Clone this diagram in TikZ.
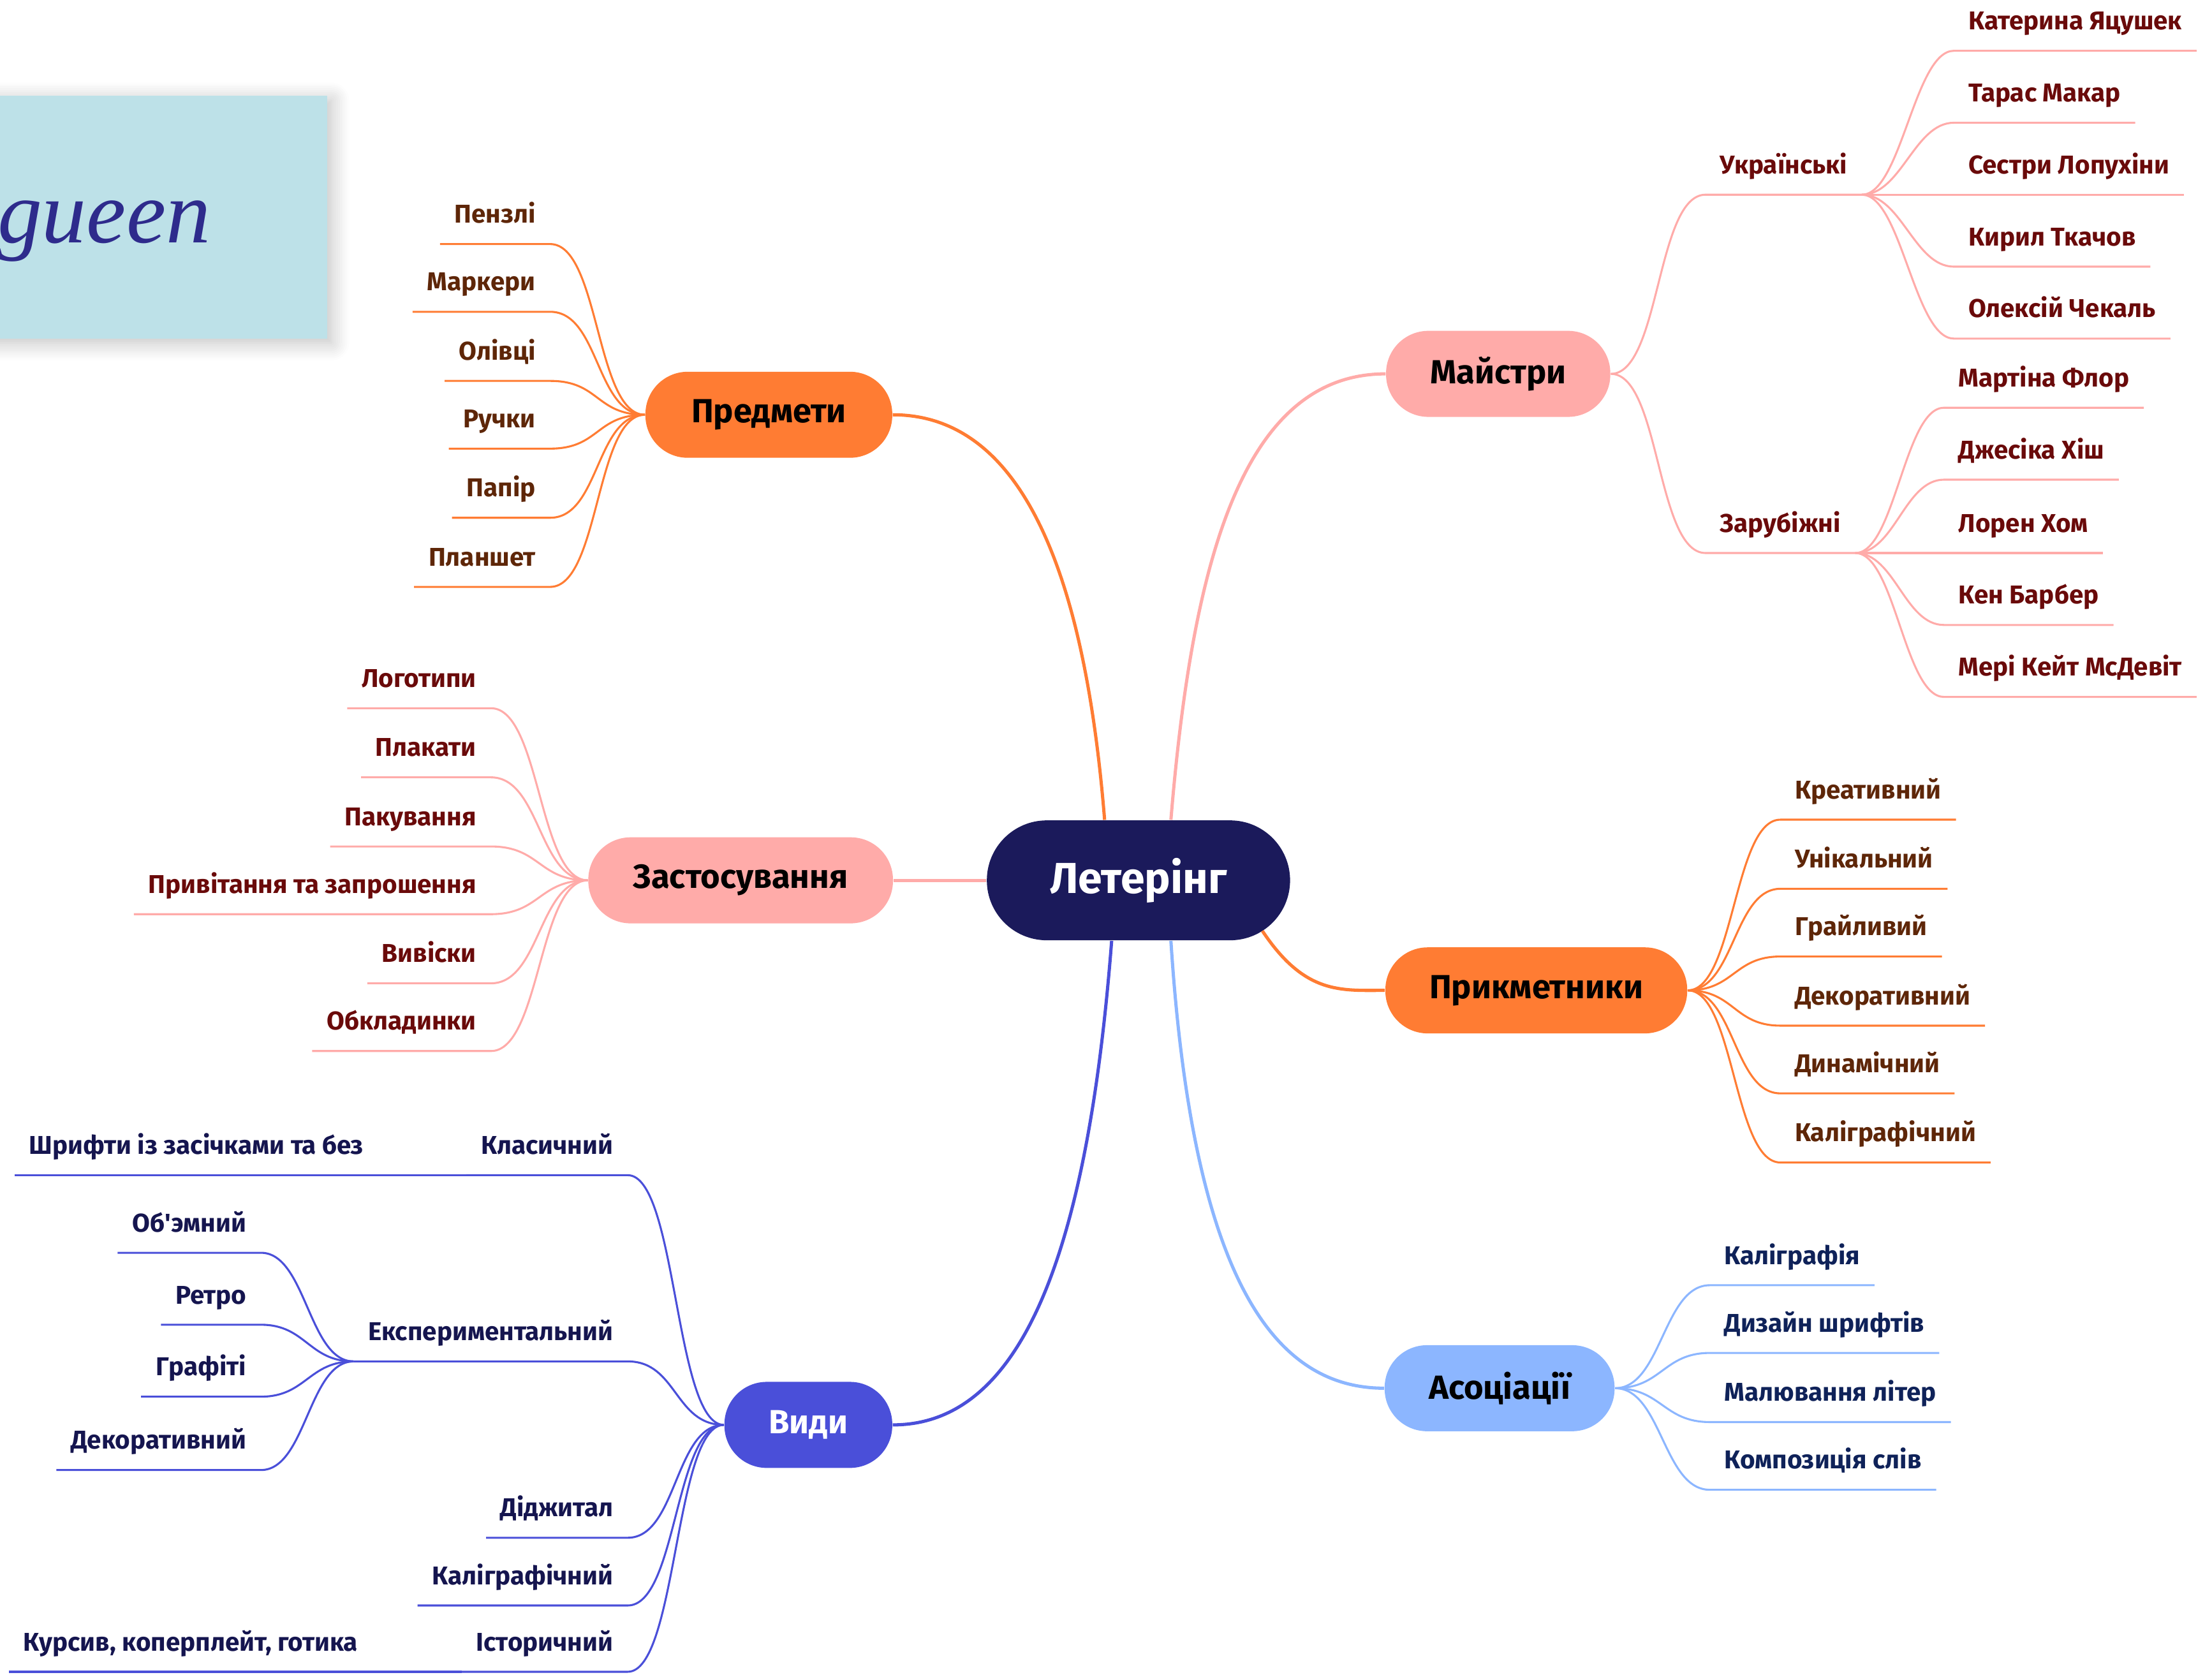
\documentclass[tikz,border=0pt]{standalone}
\usepackage{fontspec}
\setmainfont{Fira Sans}
\newfontfamily\handfont{Liberation Serif}
\usepackage{tikz}
\usetikzlibrary{shadows.blur}

\definecolor{hubnavy}{HTML}{1B1A5B}
\definecolor{brorange}{HTML}{FF7C33}
\definecolor{brpink}{HTML}{FFABA9}
\definecolor{brsky}{HTML}{8CB6FF}
\definecolor{brblue}{HTML}{4A4FD9}
\definecolor{txbrown}{HTML}{5E2608}
\definecolor{txred}{HTML}{6A0A0A}
\definecolor{txnavy}{HTML}{0F2259}
\definecolor{txindigo}{HTML}{15154F}
\definecolor{cardblue}{HTML}{BDE1E8}
\definecolor{inkblue}{HTML}{2E2B8C}

\tikzset{
  topic/.style={rounded corners=0.6cm, minimum height=1.22cm, inner sep=0pt,
    font=\fontsize{13.5}{16}\selectfont\bfseries},
  leafl/.style={anchor=south east, inner xsep=0.2cm, inner ysep=0.29cm,
    text height=0.27cm, text depth=0pt, font=\fontsize{10.4}{12}\selectfont\bfseries},
  leafr/.style={leafl, anchor=south west},
  trunk/.style={line width=1.3pt},
  twig/.style={line width=0.8pt}
}

\begin{document}
\begin{tikzpicture}[x=0.02cm, y=-0.02cm]
\useasboundingbox (0,0) rectangle (1568,1187);

% picture card
\fill[cardblue, blur shadow={shadow blur steps=10, shadow blur radius=0.25cm, shadow xshift=0.06cm, shadow yshift=-0.06cm, shadow opacity=25}] (-20,68) rectangle (232,240);
\node[inkblue, anchor=base west, font=\handfont\itshape\fontsize{36}{36}\selectfont] (hand) at (-8,172) {gueen};

% main topics
\node[topic, fill=hubnavy, text=white, minimum width=4.3cm, minimum height=1.7cm, rounded corners=0.85cm,
  font=\fontsize{17.5}{20}\selectfont\bfseries] (letering) at (807,624) {Летерінг};
\node[topic, fill=brorange, minimum width=3.5cm] (predmety) at (545,294) {Предмети};
\node[topic, fill=brpink, minimum width=3.18cm] (maistry) at (1062,265) {Майстри};
\node[topic, fill=brpink, minimum width=4.32cm] (zastos) at (525,624) {Застосування};
\node[topic, fill=brorange, minimum width=4.28cm] (prykm) at (1089,702) {Прикметники};
\node[topic, fill=brsky, minimum width=3.26cm] (asots) at (1063,984) {Асоціації};
\node[topic, fill=brblue, text=white, minimum width=2.38cm] (vydy) at (573,1010) {Види};

\draw[trunk, brorange] ([xshift=-0.48cm]letering.north) .. controls (770,420) and (730,294) .. (predmety.east);
\draw[trunk, brpink] ([xshift=0.46cm]letering.north) .. controls (845,400) and (880,265) .. (maistry.west);
\draw[trunk, brpink] (letering.west) -- (zastos.east);
\draw[trunk, brorange] ([xshift=-0.4cm,yshift=0.14cm]letering.south east) .. controls (925,705) and (950,702) .. (prykm.west);
\draw[trunk, brsky] ([xshift=0.46cm]letering.south) .. controls (845,900) and (900,984) .. (asots.west);
\draw[trunk, brblue] ([xshift=-0.38cm]letering.south) .. controls (770,900) and (720,1010) .. (vydy.east);

% Предмети
\node[leafl, text=txbrown] (penzli) at (390,173) {Пензлі};
\node[leafl, text=txbrown] (markery) at (390,221) {Маркери};
\node[leafl, text=txbrown] (olivtsi) at (390,270) {Олівці};
\node[leafl, text=txbrown] (ruchky) at (390,318) {Ручки};
\node[leafl, text=txbrown] (papir) at (390,367) {Папір};
\node[leafl, text=txbrown] (planshet) at (390,416) {Планшет};
\draw[twig, brorange] (predmety.west) .. controls +(-35,0) and +(35,0) .. (penzli.south east) -- (penzli.south west);
\draw[twig, brorange] (predmety.west) .. controls +(-35,0) and +(35,0) .. (markery.south east) -- (markery.south west);
\draw[twig, brorange] (predmety.west) .. controls +(-35,0) and +(35,0) .. (olivtsi.south east) -- (olivtsi.south west);
\draw[twig, brorange] (predmety.west) .. controls +(-35,0) and +(35,0) .. (ruchky.south east) -- (ruchky.south west);
\draw[twig, brorange] (predmety.west) .. controls +(-35,0) and +(35,0) .. (papir.south east) -- (papir.south west);
\draw[twig, brorange] (predmety.west) .. controls +(-35,0) and +(35,0) .. (planshet.south east) -- (planshet.south west);

% Застосування
\node[leafl, text=txred] (logotypy) at (348,502) {Логотипи};
\node[leafl, text=txred] (plakaty) at (348,551) {Плакати};
\node[leafl, text=txred] (pakuvannia) at (348,600) {Пакування};
\node[leafl, text=txred] (pryvitannia) at (348,648) {Привітання та запрошення};
\node[leafl, text=txred] (vyvisky) at (348,697) {Вивіски};
\node[leafl, text=txred] (obkladynky) at (348,745) {Обкладинки};
\draw[twig, brpink] (zastos.west) .. controls +(-35,0) and +(35,0) .. (logotypy.south east) -- (logotypy.south west);
\draw[twig, brpink] (zastos.west) .. controls +(-35,0) and +(35,0) .. (plakaty.south east) -- (plakaty.south west);
\draw[twig, brpink] (zastos.west) .. controls +(-35,0) and +(35,0) .. (pakuvannia.south east) -- (pakuvannia.south west);
\draw[twig, brpink] (zastos.west) .. controls +(-35,0) and +(35,0) .. (pryvitannia.south east) -- (pryvitannia.south west);
\draw[twig, brpink] (zastos.west) .. controls +(-35,0) and +(35,0) .. (vyvisky.south east) -- (vyvisky.south west);
\draw[twig, brpink] (zastos.west) .. controls +(-35,0) and +(35,0) .. (obkladynky.south east) -- (obkladynky.south west);

% Майстри
\node[leafr, text=txred] (ukrainski) at (1209,138) {Українські};
\node[leafr, text=txred] (zarubizhni) at (1209,392) {Зарубіжні};
\draw[twig, brpink] (maistry.east) .. controls +(35,0) and +(-35,0) .. (ukrainski.south west) -- (ukrainski.south east);
\draw[twig, brpink] (maistry.east) .. controls +(35,0) and +(-35,0) .. (zarubizhni.south west) -- (zarubizhni.south east);
\node[leafr, text=txred] (kateryna) at (1385,36) {Катерина Яцушек};
\node[leafr, text=txred] (taras) at (1385,87) {Тарас Макар};
\node[leafr, text=txred] (sestry) at (1385,138) {Сестри Лопухіни};
\node[leafr, text=txred] (kyryl) at (1385,189) {Кирил Ткачов};
\node[leafr, text=txred] (oleksii) at (1385,240) {Олексій Чекаль};
\draw[twig, brpink] (ukrainski.south east) .. controls +(28,0) and +(-28,0) .. (kateryna.south west) -- (kateryna.south east);
\draw[twig, brpink] (ukrainski.south east) .. controls +(28,0) and +(-28,0) .. (taras.south west) -- (taras.south east);
\draw[twig, brpink] (ukrainski.south east) -- (sestry.south west) -- (sestry.south east);
\draw[twig, brpink] (ukrainski.south east) .. controls +(28,0) and +(-28,0) .. (kyryl.south west) -- (kyryl.south east);
\draw[twig, brpink] (ukrainski.south east) .. controls +(28,0) and +(-28,0) .. (oleksii.south west) -- (oleksii.south east);
\node[leafr, text=txred] (martina) at (1378,289) {Мартіна Флор};
\node[leafr, text=txred] (jessica) at (1378,340) {Джесіка Хіш};
\node[leafr, text=txred] (loren) at (1378,392) {Лорен Хом};
\node[leafr, text=txred] (ken) at (1378,443) {Кен Барбер};
\node[leafr, text=txred] (meri) at (1378,494) {Мері Кейт МсДевіт};
\draw[twig, brpink] (zarubizhni.south east) .. controls +(28,0) and +(-28,0) .. (martina.south west) -- (martina.south east);
\draw[twig, brpink] (zarubizhni.south east) .. controls +(28,0) and +(-28,0) .. (jessica.south west) -- (jessica.south east);
\draw[twig, brpink] (zarubizhni.south east) -- (loren.south west) -- (loren.south east);
\draw[twig, brpink] (zarubizhni.south east) .. controls +(28,0) and +(-28,0) .. (ken.south west) -- (ken.south east);
\draw[twig, brpink] (zarubizhni.south east) .. controls +(28,0) and +(-28,0) .. (meri.south west) -- (meri.south east);

% Прикметники
\node[leafr, text=txbrown] (kreatyvnyi) at (1262,581) {Креативний};
\node[leafr, text=txbrown] (unikalnyi) at (1262,630) {Унікальний};
\node[leafr, text=txbrown] (hrailyvyi) at (1262,678) {Грайливий};
\node[leafr, text=txbrown] (dekoratyvnyi) at (1262,727) {Декоративний};
\node[leafr, text=txbrown] (dynamichnyi) at (1262,775) {Динамічний};
\node[leafr, text=txbrown] (kalihrafichnyi) at (1262,824) {Каліграфічний};
\draw[twig, brorange] (prykm.east) .. controls +(33,0) and +(-33,0) .. (kreatyvnyi.south west) -- (kreatyvnyi.south east);
\draw[twig, brorange] (prykm.east) .. controls +(33,0) and +(-33,0) .. (unikalnyi.south west) -- (unikalnyi.south east);
\draw[twig, brorange] (prykm.east) .. controls +(33,0) and +(-33,0) .. (hrailyvyi.south west) -- (hrailyvyi.south east);
\draw[twig, brorange] (prykm.east) .. controls +(33,0) and +(-33,0) .. (dekoratyvnyi.south west) -- (dekoratyvnyi.south east);
\draw[twig, brorange] (prykm.east) .. controls +(33,0) and +(-33,0) .. (dynamichnyi.south west) -- (dynamichnyi.south east);
\draw[twig, brorange] (prykm.east) .. controls +(33,0) and +(-33,0) .. (kalihrafichnyi.south west) -- (kalihrafichnyi.south east);

% Асоціації
\node[leafr, text=txnavy] (kalihrafiia) at (1212,911) {Каліграфія};
\node[leafr, text=txnavy] (dyzain) at (1212,959) {Дизайн шрифтів};
\node[leafr, text=txnavy] (maliuvannia) at (1212,1008) {Малювання літер};
\node[leafr, text=txnavy] (kompozytsiia) at (1212,1056) {Композиція слів};
\draw[twig, brsky] (asots.east) .. controls +(33,0) and +(-33,0) .. (kalihrafiia.south west) -- (kalihrafiia.south east);
\draw[twig, brsky] (asots.east) .. controls +(33,0) and +(-33,0) .. (dyzain.south west) -- (dyzain.south east);
\draw[twig, brsky] (asots.east) .. controls +(33,0) and +(-33,0) .. (maliuvannia.south west) -- (maliuvannia.south east);
\draw[twig, brsky] (asots.east) .. controls +(33,0) and +(-33,0) .. (kompozytsiia.south west) -- (kompozytsiia.south east);

% Види
\node[leafl, text=txindigo] (klasychnyi) at (445,833) {Класичний};
\node[leafl, text=txindigo] (eksperym) at (445,965) {Експериментальний};
\node[leafl, text=txindigo] (didzhytal) at (445,1090) {Діджитал};
\node[leafl, text=txindigo] (kalihr) at (445,1138) {Каліграфічний};
\node[leafl, text=txindigo] (istorychnyi) at (445,1185) {Історичний};
\draw[twig, brblue] (vydy.west) .. controls +(-35,0) and +(35,0) .. (klasychnyi.south east) -- (klasychnyi.south west);
\draw[twig, brblue] (vydy.west) .. controls +(-35,0) and +(35,0) .. (eksperym.south east) -- (eksperym.south west);
\draw[twig, brblue] (vydy.west) .. controls +(-35,0) and +(35,0) .. (didzhytal.south east) -- (didzhytal.south west);
\draw[twig, brblue] (vydy.west) .. controls +(-35,0) and +(35,0) .. (kalihr.south east) -- (kalihr.south west);
\draw[twig, brblue] (vydy.west) .. controls +(-35,0) and +(35,0) .. (istorychnyi.south east) -- (istorychnyi.south west);
\node[leafl, text=txindigo] (shryfty) at (268,833) {Шрифти із засічками та без};
\draw[twig, brblue] (klasychnyi.south west) -- (shryfty.south east) -- (shryfty.south west);
\node[leafl, text=txindigo] (kursyv) at (264,1185) {Курсив, коперплейт, готика};
\draw[twig, brblue] (istorychnyi.south west) -- (kursyv.south east) -- (kursyv.south west);
\node[leafl, text=txindigo] (obiemnyi) at (185,888) {Об\textquotesingle эмний};
\node[leafl, text=txindigo] (retro) at (185,939) {Ретро};
\node[leafl, text=txindigo] (hrafiti) at (185,990) {Графіті};
\node[leafl, text=txindigo] (dekor) at (185,1042) {Декоративний};
\draw[twig, brblue] (eksperym.south west) .. controls +(-32,0) and +(32,0) .. (obiemnyi.south east) -- (obiemnyi.south west);
\draw[twig, brblue] (eksperym.south west) .. controls +(-32,0) and +(32,0) .. (retro.south east) -- (retro.south west);
\draw[twig, brblue] (eksperym.south west) .. controls +(-32,0) and +(32,0) .. (hrafiti.south east) -- (hrafiti.south west);
\draw[twig, brblue] (eksperym.south west) .. controls +(-32,0) and +(32,0) .. (dekor.south east) -- (dekor.south west);
\end{tikzpicture}
\end{document}
